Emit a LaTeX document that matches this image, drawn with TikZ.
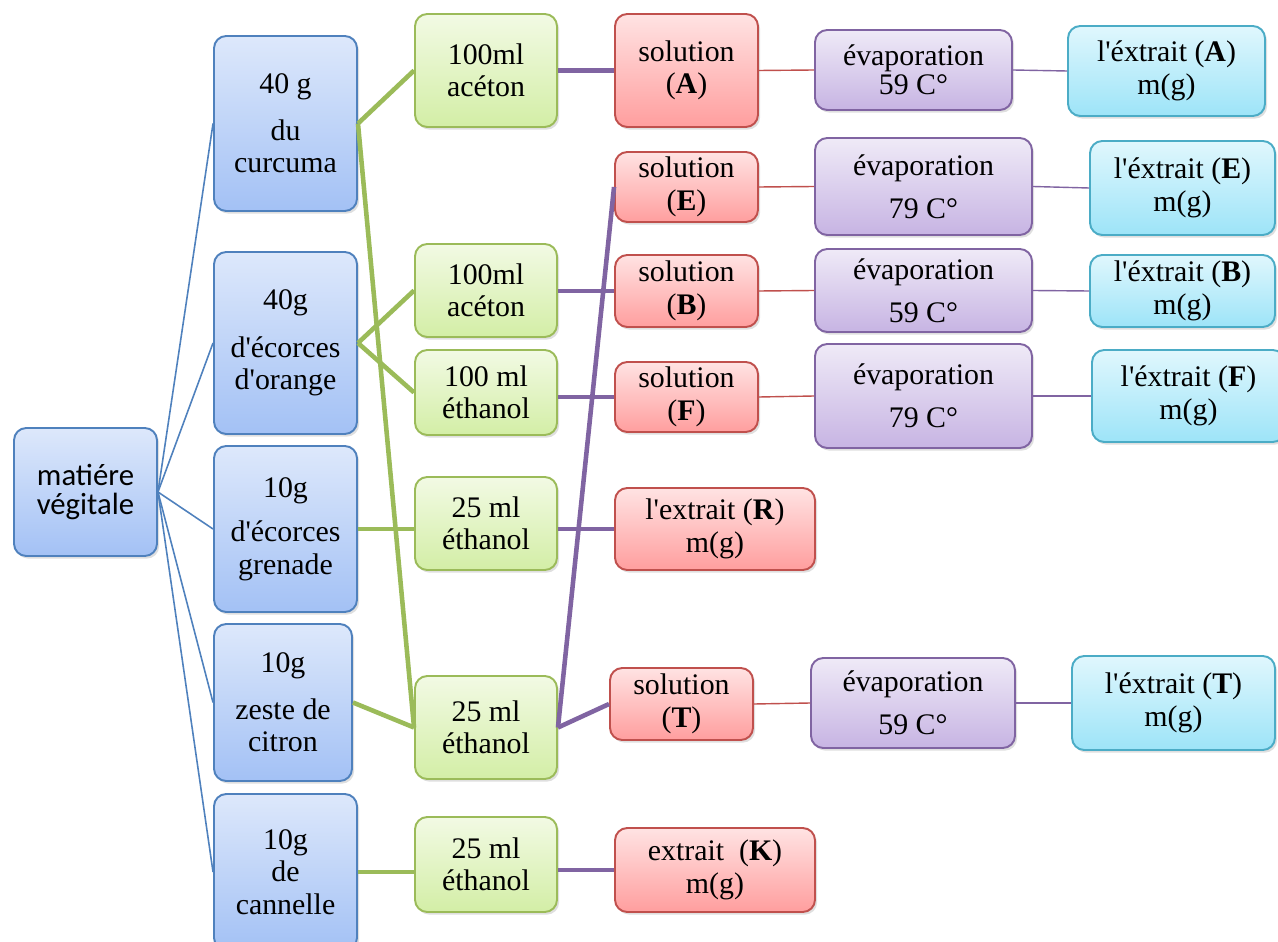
\documentclass[tikz,border=0pt]{standalone}
\usepackage{fontspec}
\setmainfont{Liberation Serif}[Ligatures=TeXOff]
\newfontfamily\calib{Carlito}
\usetikzlibrary{shadows}
\definecolor{bluebd}{HTML}{4F81BD}
\definecolor{bluetop}{HTML}{DDE8FB}
\definecolor{bluebot}{HTML}{A3C1F5}
\definecolor{grnbd}{HTML}{9BBB59}
\definecolor{grntop}{HTML}{F2FAE4}
\definecolor{grnbot}{HTML}{D3EEA6}
\definecolor{redbd}{HTML}{C0504D}
\definecolor{redtop}{HTML}{FFE3E3}
\definecolor{redbot}{HTML}{FF9E9E}
\definecolor{purbd}{HTML}{8064A2}
\definecolor{purtop}{HTML}{EFEAF7}
\definecolor{purbot}{HTML}{C7B4E3}
\definecolor{cyanbd}{HTML}{4BACC6}
\definecolor{cyantop}{HTML}{E0F7FD}
\definecolor{cyanbot}{HTML}{9DE4F8}
\tikzset{
  box/.style={rounded corners=7pt, line width=1.1pt, inner sep=0pt, align=center,
    font=\fontsize{17}{18.5}\selectfont,
    drop shadow={opacity=0.25, shadow xshift=1.2pt, shadow yshift=-1.5pt}},
  area/.style n args={4}{minimum width={(#3-#1)*0.02cm}, minimum height={(#4-#2)*0.02cm},
    at={({(#1+#3)/2},{(#2+#4)/2+2})}},
  bluebox/.style={box, draw=bluebd, top color=bluetop, bottom color=bluebot},
  greenbox/.style={box, draw=grnbd, top color=grntop, bottom color=grnbot},
  redbox/.style={box, draw=redbd, top color=redtop, bottom color=redbot},
  purbox/.style={box, draw=purbd, top color=purtop, bottom color=purbot},
  cyanbox/.style={box, draw=cyanbd, top color=cyantop, bottom color=cyanbot},
  rootln/.style={draw=bluebd, line width=0.9pt},
  greenln/.style={draw=grnbd, line width=2.6pt},
  purln/.style={draw=purbd, line width=2.6pt},
  redthin/.style={draw=redbd, line width=0.8pt},
  purthin/.style={draw=purbd, line width=0.8pt}
}
\begin{document}
\begin{tikzpicture}[x=0.02cm,y=-0.02cm]
\useasboundingbox (0,0) rectangle (1278,942);
\fill[white] (0,0) rectangle (1278,942);
\clip (0,0) rectangle (1278,942);
% root
\node[bluebox, font=\calib\fontsize{17.5}{17}\selectfont, area={14}{426}{157}{554}] (root) {matiére\\végitale};
% blue column
\node[bluebox, area={214}{34}{357}{209}] (b1) {40 g\\[8pt]du\\curcuma};
\node[bluebox, area={214}{250}{357}{432}] (b2) {40g\\[8.5pt]d'écorces\\d'orange};
\node[bluebox, area={214}{444}{357}{610}] (b3) {10g\\[7pt]d'écorces\\grenade};
\node[bluebox, area={214}{622}{352}{779}] (b4) {10g\\[8pt]zeste de\\citron};
\node[bluebox, area={214}{792}{357}{948}] (b5) {10g\\de\\cannelle};
% green column
\node[greenbox, area={415}{12}{557}{125}] (g1) {100ml\\acéton};
\node[greenbox, area={415}{242}{557}{335}] (g2) {100ml\\acéton};
\node[greenbox, area={415}{348}{557}{433}] (g3) {100 ml\\éthanol};
\node[greenbox, area={415}{475}{557}{568}] (g4) {25 ml\\éthanol};
\node[greenbox, area={415}{674}{557}{777}] (g5) {25 ml\\éthanol};
\node[greenbox, area={415}{815}{557}{910}] (g6) {25 ml\\éthanol};
% red column
\node[redbox, area={615}{12}{758}{125}] (r1) {solution\\(\textbf{A})};
\node[redbox, area={615}{150}{758}{220}] (r2) {solution\\(\textbf{E})};
\node[redbox, area={615}{253}{758}{325}] (r3) {solution\\(\textbf{B})};
\node[redbox, area={615}{360}{758}{430}] (r4) {solution\\(\textbf{F})};
\node[redbox, area={615}{486}{815}{568}] (r5) {l'extrait (\textbf{R})\\m(g)};
\node[redbox, area={610}{666}{753}{738}] (r6) {solution\\(\textbf{T})};
\node[redbox, area={615}{826}{815}{910}] (r7) {extrait~~(\textbf{K})\\m(g)};
% purple column
\node[purbox, area={815}{28}{1012}{108}] (p1) {évaporation\\[-2pt]59 C°};
\node[purbox, area={815}{136}{1032}{233}] (p2) {évaporation\\[6pt]79 C°};
\node[purbox, area={815}{247}{1032}{330}] (p3) {évaporation\\[6pt]59 C°};
\node[purbox, area={815}{342}{1032}{446}] (p4) {évaporation\\[6pt]79 C°};
\node[purbox, area={811}{656}{1015}{746}] (p5) {évaporation\\[6pt]59 C°};
% cyan column
\node[cyanbox, area={1068}{24}{1265}{114}] (c1) {l'éxtrait (\textbf{A})\\m(g)};
\node[cyanbox, area={1090}{139}{1275}{233}] (c2) {l'éxtrait (\textbf{E})\\m(g)};
\node[cyanbox, area={1090}{253}{1275}{325}] (c3) {l'éxtrait (\textbf{B})\\m(g)};
\node[cyanbox, area={1092}{348}{1285}{440}] (c4) {l'éxtrait (\textbf{F})\\m(g)};
\node[cyanbox, area={1072}{654}{1275}{748}] (c5) {l'éxtrait (\textbf{T})\\m(g)};
% root connectors
\foreach \b in {b1,b2,b3,b4,b5} \draw[rootln] (root.east) -- (\b.west);
% green connectors
\draw[greenln] (b1.east) -- (g1.west);
\draw[greenln] (b1.east) -- (g5.west);
\draw[greenln] (b2.east) -- (g2.west);
\draw[greenln] (b2.east) -- (g3.west);
\draw[greenln] (b3.east) -- (g4.west |- b3.east);
\draw[greenln] (b4.east) -- (g5.west);
\draw[greenln] (b5.east) -- (g6.west |- b5.east);
% purple thick connectors
\draw[purln] (g1.east) -- (r1.west);
\draw[purln] (g2.east |- r3.west) -- (r3.west);
\draw[purln] (g3.east |- r4.west) -- (r4.west);
\draw[purln] (g4.east |- r5.west) -- (r5.west);
\draw[purln] (g5.east) -- (r2.west);
\draw[purln] (g5.east) -- (r6.west);
\draw[purln] (g6.east |- r7.west) -- (r7.west);
% thin red connectors
\draw[redthin] (r1.east) -- (p1.west);
\draw[redthin] (r2.east) -- (p2.west);
\draw[redthin] (r3.east) -- (p3.west);
\draw[redthin] (r4.east) -- (p4.west);
\draw[redthin] (r6.east) -- (p5.west);
% thin purple connectors
\draw[purthin] (p1.east) -- (c1.west);
\draw[purthin] (p2.east) -- (c2.west);
\draw[purthin] (p3.east) -- (c3.west);
\draw[purthin] (p4.east) -- (c4.west);
\draw[purthin] (p5.east) -- (c5.west);
\end{tikzpicture}
\end{document}
